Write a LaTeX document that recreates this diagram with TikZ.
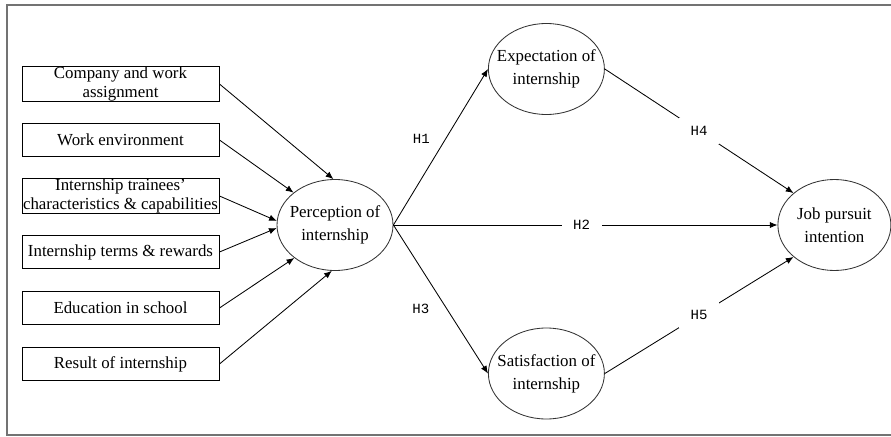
\documentclass[tikz,border=0pt]{standalone}
\usepackage{fontspec}
\setmainfont{Liberation Serif}
\setmonofont{Liberation Mono}
\usetikzlibrary{shapes.geometric, arrows.meta}

\begin{document}
\begin{tikzpicture}[scale=1.0,
    factor/.style={draw, line width=0.7pt, minimum width=4.925cm, minimum height=0.82cm,
        inner sep=0pt, align=center, font=\fontsize{12}{13.8}\selectfont},
    construct/.style={draw=black!80, ellipse, line width=0.6pt, minimum width=2.9cm,
        minimum height=2.275cm, inner sep=0pt},
    ctext/.style={align=center, font=\fontsize{12}{16.5}\selectfont},
    link/.style={-{Latex[length=5.5pt, width=4.5pt]}, line width=0.6pt},
    hyp/.style={font=\fontsize{10}{12}\selectfont\ttfamily},
    gap/.style={hyp, fill=white, minimum width=1cm, minimum height=0.65cm, inner sep=0pt}
]
    \useasboundingbox (0, 0) rectangle (22.275, 10.9);

    % Frame (right side runs off the page)
    \draw[black!55, line width=1.2pt] (22.6, 10.775) -| (0.175, 0.025) -- (22.6, 0.025);

    % Factor boxes
    \node[factor] (company) at (3.0125, 8.8) {Company and work\\assignment};
    \node[factor] (environment) at (3.0125, 7.4) {Work environment};
    \node[factor] (trainees) at (3.0125, 6.0) {Internship trainees’\\characteristics \& capabilities};
    \node[factor] (terms) at (3.0125, 4.6) {Internship terms \& rewards};
    \node[factor] (education) at (3.0125, 3.2) {Education in school};
    \node[factor] (result) at (3.0125, 1.8) {Result of internship};

    % Constructs
    \node[construct] (perception) at (8.375, 5.275) {};
    \node[construct] (expectation) at (13.66, 9.175) {};
    \node[construct] (satisfaction) at (13.66, 1.5625) {};
    \node[construct, minimum width=2.825cm] (job) at (20.86, 5.275) {};

    \node[ctext] (perception-txt) at (perception) {Perception of\\internship};
    \node[ctext] (expectation-txt) at (expectation) {Expectation of\\internship};
    \node[ctext] (satisfaction-txt) at (satisfaction) {Satisfaction of\\internship};
    \node[ctext] (job-txt) at (job) {Job pursuit\\intention};

    % Factors -> perception
    \draw[link] (company.east) -- (perception.92);
    \draw[link] (environment.east) -- (perception.142);
    \draw[link] (trainees.east) -- (perception.176);
    \draw[link] (terms.east) -- (perception.183);
    \draw[link] (education.east) -- (perception.219);
    \draw[link] (result.east) -- (perception.266);

    % Hypotheses
    \draw[link] (perception.east) -- node[hyp, pos=0.55, xshift=-0.6cm] (h1) {H1} (expectation.west);
    \draw[link] (perception.east) -- node[gap, pos=0.49] (h2) {H2} (job.west);
    \draw[link] (perception.east) -- node[hyp, pos=0.565, xshift=-0.65cm] (h3) {H3} (satisfaction.west);
    \draw[link] (expectation.east) -- node[gap] (h4) {H4} (job.142);
    \draw[link] (satisfaction.east) -- node[gap] (h5) {H5} (job.218);

\end{tikzpicture}
\end{document}
